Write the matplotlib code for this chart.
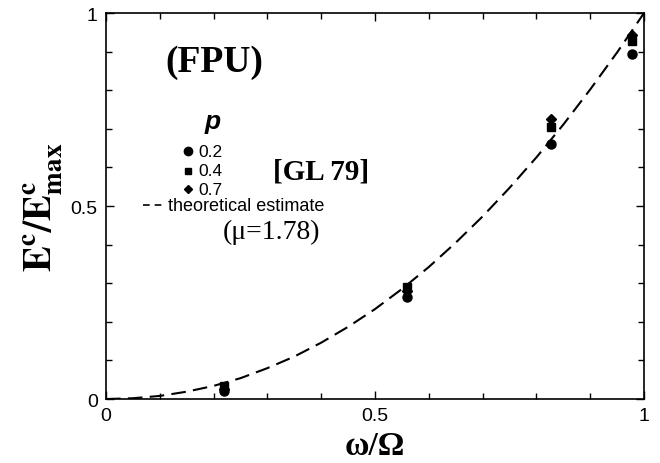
import matplotlib
matplotlib.use("Agg")
import matplotlib.pyplot as plt
from matplotlib.ticker import MultipleLocator

plt.rcParams["mathtext.fontset"] = "stix"

# measured points (omega/Omega, E^c/E^c_max) for three values of p
freq = [0.22, 0.56, 0.827, 0.978]
p02 = [0.02, 0.265, 0.66, 0.894]
p04 = [0.035, 0.29, 0.705, 0.927]
p07 = [0.025, 0.28, 0.725, 0.943]

# theoretical estimate
theo_x = [0.0, 0.05, 0.1, 0.15, 0.2, 0.25, 0.3, 0.35, 0.4, 0.45, 0.5,
          0.55, 0.6, 0.65, 0.7, 0.75, 0.8, 0.85, 0.9, 0.95, 1.0]
theo_y = [0.0, 0.002, 0.008, 0.019, 0.034, 0.054, 0.08, 0.11, 0.146, 0.187, 0.233,
          0.285, 0.342, 0.405, 0.473, 0.547, 0.626, 0.711, 0.802, 0.898, 1.0]

fig = plt.figure(figsize=(6.6, 4.64), dpi=100)
ax = fig.add_axes([0.1606, 0.1379, 0.8152, 0.8319])

ax.plot(theo_x, theo_y, color="black", lw=1.5, ls=(0, (7, 3.5)))
ax.plot(freq, p02, "o", color="black", ms=6.5)
ax.plot(freq, p04, "s", color="black", ms=5.5)
ax.plot(freq, p07, "D", color="black", ms=5)

ax.set_xlim(0, 1)
ax.set_ylim(0, 1)
ax.xaxis.set_major_locator(MultipleLocator(0.5))
ax.yaxis.set_major_locator(MultipleLocator(0.5))
ax.xaxis.set_minor_locator(MultipleLocator(0.1))
ax.yaxis.set_minor_locator(MultipleLocator(0.1))
ax.xaxis.set_major_formatter(lambda v, pos: "%g" % v)
ax.yaxis.set_major_formatter(lambda v, pos: "%g" % v)
ax.tick_params(which="both", direction="in", top=True, right=True, width=1)
ax.tick_params(which="major", length=6, labelsize=14, pad=6)
ax.tick_params(which="minor", length=4)
for lab in ax.get_xticklabels() + ax.get_yticklabels():
    lab.set_family("Liberation Sans")
for s in ax.spines.values():
    s.set_linewidth(1.2)

ax.set_xlabel("ω/Ω", family="Liberation Serif", weight="bold", fontsize=24, labelpad=4)
ax.set_ylabel(r"$\mathbf{E^c/E^c_{max}}$", fontsize=28, labelpad=4)

serif = "Liberation Serif"
sans = "Liberation Sans"
tr = ax.transAxes
ax.text(0.11, 0.875, "(FPU)", family=serif, weight="bold", fontsize=27,
        transform=tr, va="center")
ax.text(0.199, 0.72, "p", family=sans, weight="bold", style="italic", fontsize=19,
        transform=tr, va="center", ha="center")

leg_y = [0.642, 0.591, 0.544]
leg_lab = ["0.2", "0.4", "0.7"]
leg_mk = [("o", 6), ("s", 5), ("D", 4.5)]
for yy, lab, (mk, ms) in zip(leg_y, leg_lab, leg_mk):
    ax.plot([0.152], [yy], mk, color="black", ms=ms, transform=tr, clip_on=False)
    ax.text(0.172, yy, lab, family=sans, fontsize=12.5, transform=tr, va="center")
ax.plot([0.069, 0.110], [0.502, 0.502], color="black", lw=1.2, ls=(0, (4, 3)),
        transform=tr)
ax.text(0.116, 0.502, "theoretical estimate", family=sans, fontsize=13,
        transform=tr, va="center")
ax.text(0.31, 0.591, "[GL 79]", family=serif, weight="bold", fontsize=21,
        transform=tr, va="center")
ax.text(0.217, 0.435, "(μ=1.78)", family=serif, fontsize=20,
        transform=tr, va="center")

fig.savefig("out.png", dpi=100)
